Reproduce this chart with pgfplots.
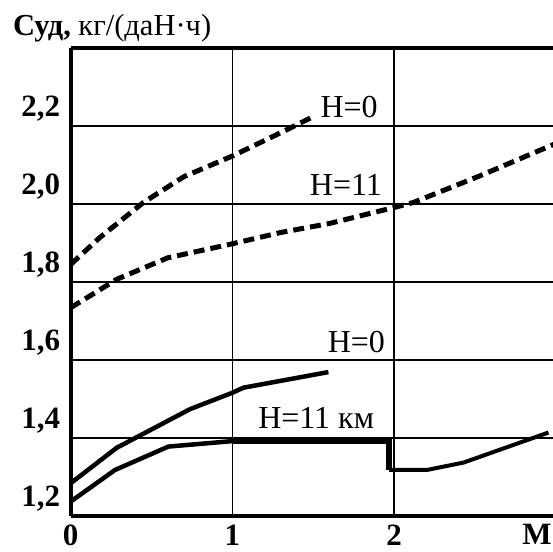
\documentclass[border=0pt]{standalone}
\usepackage{pgfplots}
\pgfplotsset{compat=1.18}
\usepackage{fontspec}
\setmainfont{Liberation Serif}
\usetikzlibrary{calc}

\begin{document}
\begin{tikzpicture}
\begin{axis}[
  scale only axis, width=485pt, height=468pt,
  xmin=0, xmax=3, ymin=1.2, ymax=2.4,
  axis x line=box, axis y line=left,
  x axis line style={-}, y axis line style={-},
  axis line style={line width=3.8pt, black},
  major tick length=0pt,
  grid=major, major grid style={line width=1.5pt, black},
  xtick={0,1,2}, xticklabels={0,1,2},
  extra x ticks={2.885}, extra x tick labels={M},
  extra x tick style={grid=none},
  ytick={1.2,1.4,1.6,1.8,2.0,2.2},
  yticklabels={{1,2},{1,4},{1,6},{1,8},{2,0},{2,2}},
  tick label style={font=\fontsize{31}{33}\selectfont\bfseries},
  yticklabel style={yshift=17pt, xshift=-7pt},
  xticklabel style={yshift=-5pt},
  clip=true,
]
\coordinate (O) at (rel axis cs:0,0);
% dashed H=0
\addplot[black, line width=5pt, dash pattern=on 11pt off 6pt] coordinates {
 (0,1.845) (0.18,1.914) (0.45,2.004) (0.7,2.07) (1.0,2.123) (1.3,2.183) (1.51,2.226)};
% dashed H=11
\addplot[black, line width=5pt, dash pattern=on 11pt off 6pt] coordinates {
 (0,1.734) (0.285,1.807) (0.6,1.862) (1.0,1.898) (1.3,1.927) (1.6,1.950) (2.0,1.991) (2.12,2.004) (2.53,2.072) (3.0,2.155)};
% solid H=0
\addplot[black, line width=4.5pt] coordinates {
 (0,1.284) (0.285,1.375) (0.738,1.474) (1.0,1.516) (1.068,1.529) (1.594,1.569)};
% solid H=11 km
\addplot[black, line width=4.5pt] coordinates {
 (0,1.237) (0.274,1.318) (0.604,1.378) (1.0,1.392)};
\addplot[black, line width=6.5pt] coordinates {
 (1.0,1.393) (1.97,1.393) (1.97,1.318)};
\addplot[black, line width=4pt] coordinates {
 (1.97,1.318) (2.203,1.318) (2.43,1.337) (2.955,1.414)};
% labels
\node[anchor=base east, inner sep=0pt, font=\fontsize{32}{34}\selectfont] at (axis cs:1.90,2.222) {H=0};
\node[anchor=base east, inner sep=0pt, font=\fontsize{32}{34}\selectfont] at (axis cs:1.926,2.022) {H=11};
\node[anchor=base east, inner sep=0pt, font=\fontsize{32}{34}\selectfont] at (axis cs:1.945,1.62) {H=0};
\node[anchor=base west, inner sep=0pt, font=\fontsize{32}{34}\selectfont] at (axis cs:1.159,1.424) {H=11 км};
\end{axis}
\node[anchor=base west, inner sep=0pt, font=\fontsize{30.5}{32}\selectfont] at ($(O)+(-57.7pt,480pt)$) {\textbf{Суд,} кг/(даН·ч)};
\pgfresetboundingbox
\path[use as bounding box] ($(O)+(-70.7pt,-35pt)$) rectangle ($(O)+(482.3pt,516pt)$);
\end{tikzpicture}
\end{document}
